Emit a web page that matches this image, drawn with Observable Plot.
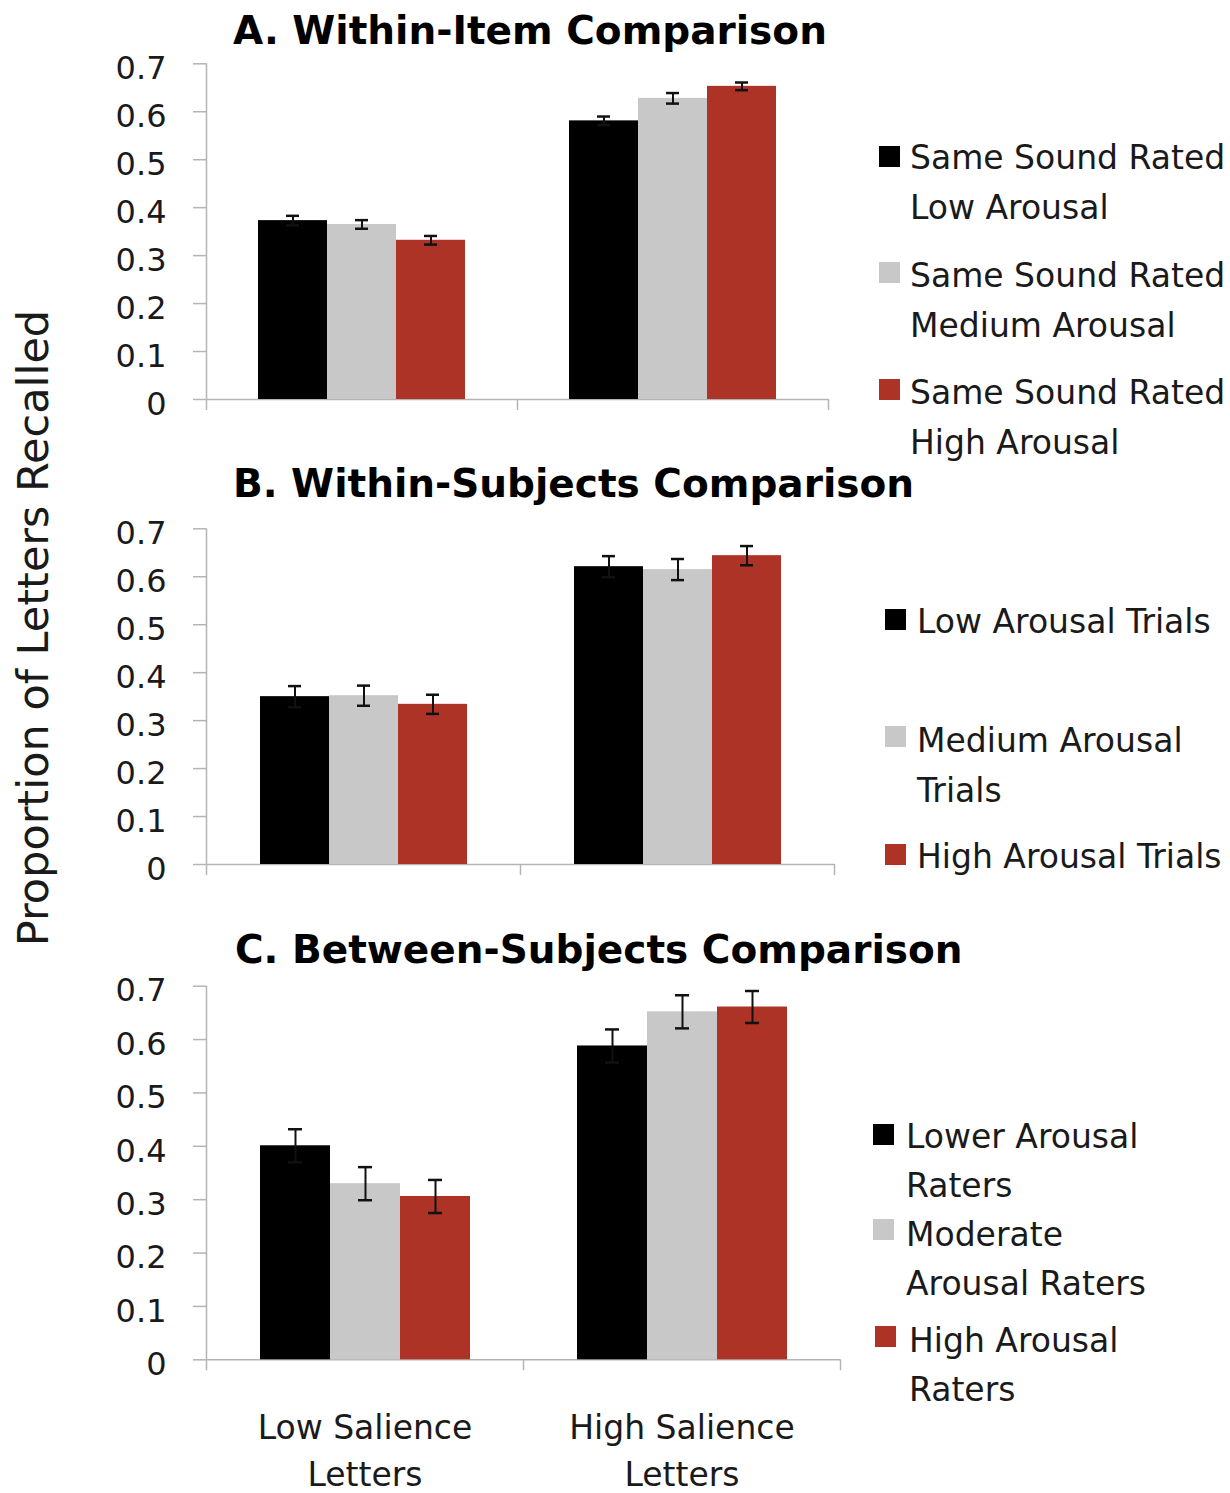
<!DOCTYPE html>
<html>
<head>
<meta charset="utf-8">
<script src="https://cdn.jsdelivr.net/npm/d3@7"></script>
<script src="https://cdn.jsdelivr.net/npm/@observablehq/plot@0.6"></script>
<style>
  body { margin: 0; background: #fff; }
  #page { position: relative; width: 1230px; height: 1493px; overflow: hidden; font-family: "DejaVu Sans", sans-serif; color: #1a1a1a; background: #fff; }
  .abs { position: absolute; }
  .title { font-weight: bold; font-size: 39px; line-height: 40px; white-space: nowrap; color: #000; }
  .leg { font-size: 33px; white-space: pre-line; }
  .sw { position: absolute; width: 21px; height: 21px; }
  .ytitle { font-size: 43px; white-space: nowrap; transform: translate(-50%, -50%) rotate(-90deg); line-height: 50px; }
</style>
</head>
<body>
<div id="page"></div>
<script>
// ---------- data ----------
const categories = ["Low Salience\nLetters", "High Salience\nLetters"];
const yTicks = [0, 0.1, 0.2, 0.3, 0.4, 0.5, 0.6, 0.7];
const colors = ["#000000", "#c8c8c8", "#ad3326"];
const yTitle = "Proportion of Letters Recalled";

const titleA = "A. Within-Item Comparison";
const seriesA = ["Same Sound Rated\nLow Arousal", "Same Sound Rated\nMedium Arousal", "Same Sound Rated\nHigh Arousal"];
const lowA = [0.373, 0.365, 0.332];
const highA = [0.581, 0.628, 0.653];
const errLowA = [0.010, 0.009, 0.009];
const errHighA = [0.009, 0.011, 0.008];

const titleB = "B. Within-Subjects Comparison";
const seriesB = ["Low Arousal Trials", "Medium Arousal\nTrials", "High Arousal Trials"];
const lowB = [0.350, 0.352, 0.334];
const highB = [0.621, 0.615, 0.644];
const errLowB = [0.022, 0.021, 0.020];
const errHighB = [0.022, 0.022, 0.020];

const titleC = "C. Between-Subjects Comparison";
const seriesC = ["Lower Arousal\nRaters", "Moderate\nArousal Raters", "High Arousal\nRaters"];
const lowC = [0.401, 0.330, 0.306];
const highC = [0.588, 0.652, 0.661];
const errLowC = [0.031, 0.031, 0.031];
const errHighC = [0.031, 0.031, 0.030];

// ---------- layout ----------
const W = 870;
const axisColor = "#b4b4b4";
const textColor = "#1a1a1a";
const page = document.getElementById("page");

function rowsFor(series, low, high, errLow, errHigh) {
  const vals = [low, high], errs = [errLow, errHigh];
  const rows = [];
  categories.forEach((c, ci) => series.forEach((s, si) =>
    rows.push({category: c, series: s, value: vals[ci][si], err: errs[ci][si]})));
  return rows;
}

function place(el, top) {
  const d = document.createElement("div");
  d.className = "abs";
  d.style.left = "0px";
  d.style.top = top + "px";
  d.appendChild(el);
  page.appendChild(d);
}

function panel(cfg) {
  const {series, rows, svgTop, svgH, plotT, plotB, plotR, showX} = cfg;
  const dims = {
    width: W, height: svgH,
    marginLeft: 206, marginRight: W - plotR,
    marginTop: plotT - svgTop, marginBottom: svgTop + svgH - plotB
  };
  const yMax = yTicks[yTicks.length - 1];
  // axes layer
  const axes = Plot.plot({
    ...dims,
    x: {domain: [0, categories.length], axis: null},
    y: {domain: [0, yMax], axis: null},
    style: {background: "transparent", fontFamily: "DejaVu Sans", overflow: "visible"},
    marks: [
      Plot.axisY({ticks: yTicks, tickSize: 13, stroke: axisColor, strokeWidth: 1.5, tickFormat: () => "", label: null}),
      Plot.axisY({ticks: yTicks, tickSize: 0, tickPadding: 40, dy: 5, fill: textColor, fontSize: 32, tickFormat: d => String(d), label: null}),
      Plot.ruleX([0], {y1: 0, y2: yMax, stroke: axisColor, strokeWidth: 1.5}),
      Plot.ruleY([0], {stroke: axisColor, strokeWidth: 1.5}),
      Plot.axisX({ticks: d3.range(categories.length + 1), tickSize: 11, stroke: axisColor, strokeWidth: 1.5, tickFormat: () => "", label: null})
    ]
  });
  // bars layer
  const bars = Plot.plot({
    ...dims,
    fx: {domain: categories, padding: 0, label: null, axis: null},
    x: {domain: series, paddingInner: 0, paddingOuter: 0.75, axis: null},
    y: {domain: [0, yMax], axis: null},
    color: {domain: series, range: colors},
    style: {background: "transparent", fontFamily: "DejaVu Sans", overflow: "visible"},
    marks: [
      Plot.barY(rows, {fx: "category", x: "series", y: "value", fill: "series"}),
      Plot.ruleX(rows, {fx: "category", x: "series", y1: d => d.value - d.err, y2: d => d.value + d.err, stroke: "#111", strokeWidth: 2}),
      Plot.tickY(rows, {fx: "category", x: "series", y: d => d.value + d.err, stroke: "#111", strokeWidth: 2.5, insetLeft: 28, insetRight: 28}),
      Plot.tickY(rows, {fx: "category", x: "series", y: d => d.value - d.err, stroke: "#111", strokeWidth: 2.5, insetLeft: 28, insetRight: 28}),
      showX ? Plot.axisFx({anchor: "bottom", tickSize: 0, tickPadding: 46, fontSize: 33, lineHeight: 1.43, fill: textColor, label: null}) : null
    ]
  });
  place(axes, svgTop);
  place(bars, svgTop);
}

function title(text, left, center) {
  const d = document.createElement("div");
  d.className = "abs title";
  d.style.left = left + "px";
  d.style.top = (center - 20) + "px";
  d.textContent = text;
  page.appendChild(d);
}

function legend(series, items, lh) {
  series.forEach((s, i) => {
    const it = items[i];
    const sw = document.createElement("div");
    sw.className = "sw";
    sw.style.left = it.sx + "px";
    sw.style.top = it.sy + "px";
    sw.style.background = colors[i];
    page.appendChild(sw);
    const t = document.createElement("div");
    t.className = "abs leg";
    t.style.left = it.tx + "px";
    t.style.top = (it.cy - lh / 2) + "px";
    t.style.lineHeight = lh + "px";
    t.textContent = s;
    page.appendChild(t);
  });
}

// Panel A
panel({series: seriesA, rows: rowsFor(seriesA, lowA, highA, errLowA, errHighA),
  svgTop: 45, svgH: 370, plotT: 63.3, plotB: 399, plotR: 828, showX: false});
// Panel B
panel({series: seriesB, rows: rowsFor(seriesB, lowB, highB, errLowB, errHighB),
  svgTop: 505, svgH: 375, plotT: 528.3, plotB: 864, plotR: 834, showX: false});
// Panel C
panel({series: seriesC, rows: rowsFor(seriesC, lowC, highC, errLowC, errHighC),
  svgTop: 965, svgH: 528, plotT: 985.7, plotB: 1359.3, plotR: 840, showX: true});

title(titleA, 233, 31);
title(titleB, 233, 484);
title(titleC, 235, 950);

legend(seriesA, [
  {sx: 879, sy: 146, tx: 910, cy: 158},
  {sx: 879, sy: 262, tx: 910, cy: 276},
  {sx: 879, sy: 379, tx: 910, cy: 393}
], 50);
legend(seriesB, [
  {sx: 885, sy: 609, tx: 917, cy: 622},
  {sx: 885, sy: 726, tx: 917, cy: 741},
  {sx: 885, sy: 844, tx: 917, cy: 857}
], 50);
legend(seriesC, [
  {sx: 873, sy: 1124, tx: 906, cy: 1136},
  {sx: 873, sy: 1219, tx: 906, cy: 1234},
  {sx: 875, sy: 1326, tx: 909, cy: 1340}
], 49);

const yt = document.createElement("div");
yt.className = "abs ytitle";
yt.style.left = "33px";
yt.style.top = "628px";
yt.textContent = yTitle;
page.appendChild(yt);
</script>
</body>
</html>
